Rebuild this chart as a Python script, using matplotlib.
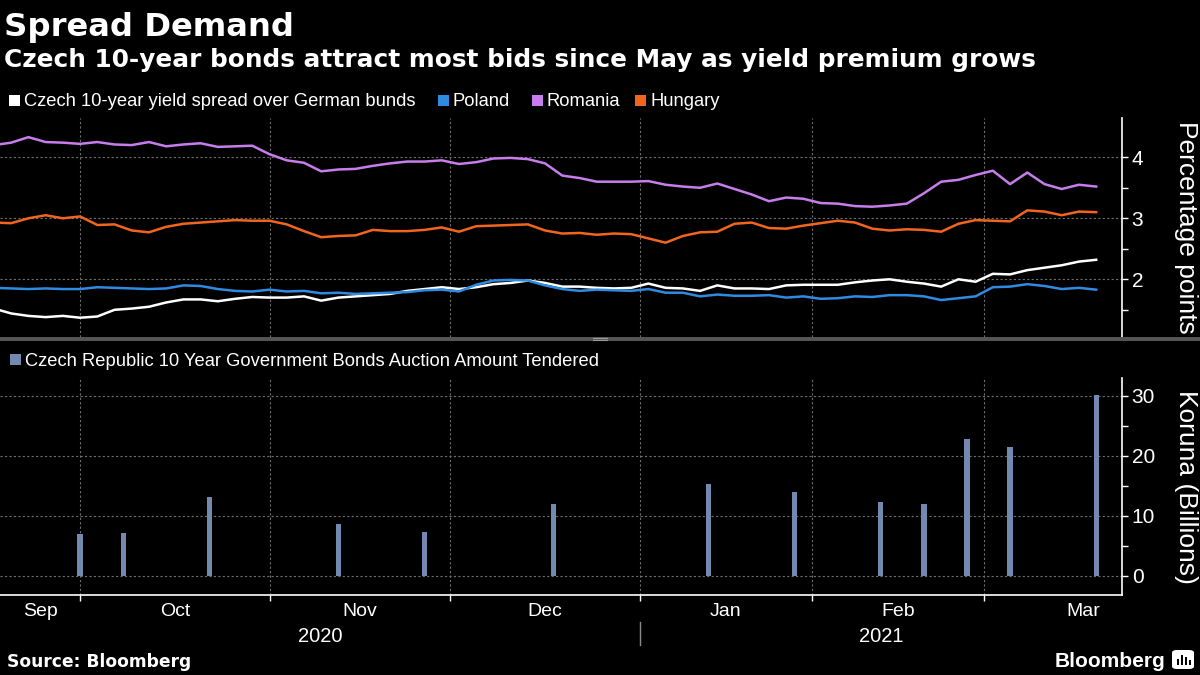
import numpy as np
import matplotlib
matplotlib.use("Agg")
import matplotlib.pyplot as plt
from matplotlib.patches import Rectangle, FancyBboxPatch

plt.rcParams['font.family'] = ['Liberation Sans', 'DejaVu Sans']

# ---------------- data ----------------
HOLIDAYS = ["2020-12-25", "2021-01-01"]   # days without data on the business-day axis
ORIGIN = "2020-10-01"

# yield spreads (percentage points), sampled every 2 business days from line_start
line_start = "2020-09-17"
line_step_bdays = 2
czech = [1.52, 1.44, 1.40, 1.38, 1.40,
         1.37, 1.39, 1.50, 1.52, 1.55, 1.62, 1.67, 1.67, 1.64, 1.68,
         1.71, 1.70, 1.70, 1.72, 1.65, 1.70, 1.72, 1.74, 1.76, 1.81,
         1.84, 1.87, 1.84, 1.87, 1.92, 1.94, 1.98, 1.94, 1.88, 1.88,
         1.86, 1.85, 1.86, 1.93, 1.86, 1.85, 1.81, 1.90, 1.85, 1.85,
         1.84, 1.90, 1.91, 1.91, 1.91, 1.95, 1.98, 2.00, 1.96, 1.93,
         1.88, 2.00, 1.96, 2.09, 2.08, 2.15, 2.19, 2.23, 2.29, 2.32]
poland = [1.86, 1.85, 1.84, 1.85, 1.84,
          1.84, 1.87, 1.86, 1.85, 1.84, 1.85, 1.90, 1.89, 1.84, 1.81,
          1.80, 1.83, 1.80, 1.81, 1.77, 1.78, 1.76, 1.77, 1.78, 1.79,
          1.82, 1.83, 1.80, 1.91, 1.98, 1.99, 1.98, 1.90, 1.84, 1.81,
          1.83, 1.82, 1.81, 1.84, 1.78, 1.78, 1.72, 1.75, 1.73, 1.73,
          1.74, 1.70, 1.72, 1.68, 1.69, 1.72, 1.71, 1.74, 1.74, 1.72,
          1.66, 1.69, 1.72, 1.87, 1.88, 1.92, 1.89, 1.84, 1.86, 1.83]
romania = [4.20, 4.24, 4.33, 4.25, 4.24,
           4.22, 4.25, 4.21, 4.20, 4.25, 4.18, 4.21, 4.23, 4.17, 4.18,
           4.19, 4.05, 3.95, 3.91, 3.77, 3.80, 3.81, 3.86, 3.90, 3.93,
           3.93, 3.95, 3.89, 3.92, 3.98, 3.99, 3.97, 3.90, 3.70, 3.66,
           3.60, 3.60, 3.60, 3.61, 3.55, 3.52, 3.50, 3.57, 3.48, 3.39,
           3.28, 3.34, 3.32, 3.25, 3.24, 3.20, 3.19, 3.21, 3.24, 3.41,
           3.60, 3.63, 3.71, 3.78, 3.56, 3.75, 3.56, 3.48, 3.55, 3.52]
hungary = [2.93, 2.92, 3.00, 3.05, 3.00,
           3.03, 2.89, 2.90, 2.80, 2.77, 2.86, 2.91, 2.93, 2.95, 2.97,
           2.96, 2.96, 2.90, 2.79, 2.69, 2.71, 2.72, 2.81, 2.79, 2.79,
           2.81, 2.85, 2.78, 2.87, 2.88, 2.89, 2.90, 2.80, 2.75, 2.76,
           2.73, 2.75, 2.74, 2.67, 2.60, 2.71, 2.77, 2.78, 2.91, 2.93,
           2.84, 2.83, 2.88, 2.92, 2.96, 2.93, 2.83, 2.80, 2.82, 2.81,
           2.78, 2.91, 2.97, 2.96, 2.95, 3.13, 3.11, 3.05, 3.11, 3.10]

series_names = ["Czech 10-year yield spread over German bunds", "Poland", "Romania", "Hungary"]
series_colors = ["#ffffff", "#2f8ae2", "#c77deb", "#f2651f"]

# auction amount tendered (koruna, billions)
auction_dates = ["2020-10-01", "2020-10-08", "2020-10-22", "2020-11-12", "2020-11-26",
                 "2020-12-17", "2021-01-14", "2021-01-28", "2021-02-11", "2021-02-18",
                 "2021-02-25", "2021-03-04", "2021-03-18"]
auction_amounts = [7.0, 7.2, 13.2, 8.7, 7.4, 12.0, 15.4, 14.0, 12.4, 12.0, 22.9, 21.5, 30.1]
bar_name = "Czech Republic 10 Year Government Bonds Auction Amount Tendered"
bar_color = "#7389b0"

month_starts = ["2020-10-01", "2020-11-02", "2020-12-01", "2021-01-04", "2021-02-01", "2021-03-01"]
month_labels = ["Sep", "Oct", "Nov", "Dec", "Jan", "Feb", "Mar"]
next_month_start = "2021-04-01"
year_labels = ["2020", "2021"]
year_start = "2021-01-04"

top_ticks = [2, 3, 4]
top_minor = [1.5, 2.5, 3.5]
bot_ticks = [0, 10, 20, 30]
bot_minor = [5, 15, 25]


def bd(d):
    return int(np.busday_count(np.datetime64(ORIGIN), np.datetime64(d), holidays=HOLIDAYS))


line_x = bd(line_start) + line_step_bdays * np.arange(len(czech))
bar_x = np.array([bd(d) for d in auction_dates])
ms_x = [bd(d) for d in month_starts]

# ---------------- layout ----------------
W, H = 1200, 675
fig = plt.figure(figsize=(12, 6.75), dpi=100, facecolor="black")


def fx(px):
    return px / W


def fy(py):
    return 1 - py / H


XLIM = (-9.3, 121.0)
ax1 = fig.add_axes([0, fy(337), fx(1122), (337 - 118) / H])
ax2 = fig.add_axes([0, fy(595), fx(1122), (595 - 378) / H])

grid_kw = dict(color="#6e6e6e", linestyle=(0, (2, 2)), linewidth=0.8)

for ax in (ax1, ax2):
    ax.set_facecolor("black")
    ax.set_xlim(*XLIM)
    for s in ("left", "top", "bottom"):
        ax.spines[s].set_visible(False)
    ax.spines["right"].set_color("white")
    ax.spines["right"].set_linewidth(1.2)
    ax.yaxis.tick_right()
    ax.tick_params(axis="y", which="both", colors="white", direction="out",
                   length=4, width=1, labelsize=15, pad=3)
    ax.set_xticks(ms_x)
    ax.set_xticklabels([])
    ax.grid(True, axis="both", which="major", **grid_kw)
    ax.set_axisbelow(True)

ax1.tick_params(axis="x", length=0)
ax2.spines["bottom"].set_visible(True)
ax2.spines["bottom"].set_color("white")
ax2.spines["bottom"].set_linewidth(1.2)
ax2.tick_params(axis="x", colors="white", direction="out", length=4, width=1)

# top panel: lines
for vals, c in zip([czech, poland, romania, hungary], series_colors):
    ax1.plot(line_x, vals, color=c, lw=1.8, solid_joinstyle="round")
ax1.set_ylim(1.054, 4.644)
ax1.set_yticks(top_ticks)
ax1.set_yticks(top_minor, minor=True)

# bottom panel: bars
ax2.bar(bar_x, auction_amounts, width=0.6, color=bar_color)
ax2.set_ylim(-3.17, 33.0)
ax2.set_yticks(bot_ticks)
ax2.set_yticks(bot_minor, minor=True)

# month labels
bounds = [XLIM[0]] + ms_x + [bd(next_month_start)]
trans = ax2.get_xaxis_transform()
for i, lab in enumerate(month_labels):
    ax2.text((bounds[i] + bounds[i + 1]) / 2, -0.097, lab, transform=trans,
             ha="center", va="baseline", color="white", fontsize=14)
ys = bd(year_start)
ax2.text((XLIM[0] + ys) / 2, -0.2166, year_labels[0], transform=trans,
         ha="center", va="baseline", color="white", fontsize=14.5)
ax2.text((ys + XLIM[1]) / 2, -0.2166, year_labels[1], transform=trans,
         ha="center", va="baseline", color="white", fontsize=14.5)
ax2.plot([ys, ys], [-0.124, -0.23], transform=trans, color="#8c8c8c", lw=1, clip_on=False)

# axis titles
fig.text(fx(1186), fy(227), "Percentage points", rotation=270, ha="center", va="center",
         color="white", fontsize=19)
fig.text(fx(1186), fy(487), "Koruna (Billions)", rotation=270, ha="center", va="center",
         color="white", fontsize=19)

# panel separator
fig.patches.append(Rectangle((0, fy(340.5)), 1, 4 / H, transform=fig.transFigure,
                             facecolor="#555555", edgecolor="none"))
for yy in (338, 340):
    fig.lines.append(plt.Line2D([fx(593), fx(607)], [fy(yy), fy(yy)], transform=fig.transFigure,
                                color="#9a9a9a", lw=0.8))

# titles
fig.text(fx(4), fy(36), "Spread Demand", fontsize=23.2, fontweight="bold", color="white",
         family="DejaVu Sans", va="baseline")
fig.text(fx(4), fy(67), "Czech 10-year bonds attract most bids since May as yield premium grows",
         fontsize=17.8, fontweight="bold", color="white", family="DejaVu Sans", va="baseline")

# legends
leg_items = [(9, 24), (438, 453), (532, 547), (635, 650)]
for (sx, tx), name, c in zip(leg_items, series_names, series_colors):
    fig.patches.append(Rectangle((fx(sx), fy(106)), 11 / W, 11 / H, transform=fig.transFigure,
                                 facecolor=c, edgecolor="none"))
    fig.text(fx(tx), fy(106), name, fontsize=13.2, color="white", va="baseline")

fig.patches.append(Rectangle((fx(10), fy(365)), 11 / W, 11 / H, transform=fig.transFigure,
                             facecolor=bar_color, edgecolor="none"))
fig.text(fx(25), fy(366), bar_name, fontsize=13.2, color="white", va="baseline")

# footer
fig.text(fx(7), fy(667), "Source: Bloomberg", fontsize=12.3, fontweight="bold", color="white",
         family="DejaVu Sans", va="baseline")
fig.text(fx(1165), fy(667), "Bloomberg", fontsize=15, fontweight="bold", color="white",
         ha="right", va="baseline")
fig.patches.append(FancyBboxPatch((fx(1172), fy(669)), 22 / W, 19 / H, transform=fig.transFigure,
                                  boxstyle="round,pad=0,rounding_size=0.004",
                                  facecolor="white", edgecolor="none"))
for bx, bh in ((1177, 6), (1181, 10), (1185, 8), (1189, 5)):
    fig.patches.append(Rectangle((fx(bx), fy(665)), 2 / W, bh / H, transform=fig.transFigure,
                                 facecolor="black", edgecolor="none"))

fig.savefig("out.png", dpi=100, facecolor="black")
